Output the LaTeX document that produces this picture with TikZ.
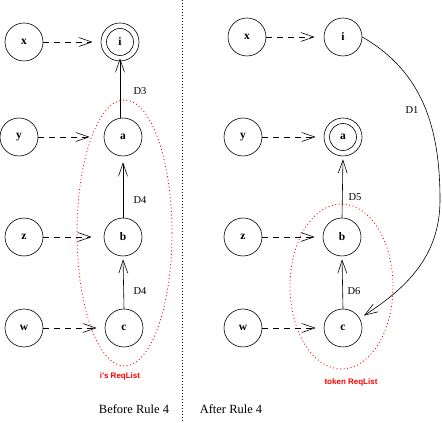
\documentclass[tikz,border=0pt]{standalone}
\usepackage{fontspec}
\setmainfont{Liberation Serif}
\setsansfont{Liberation Sans}
\usetikzlibrary{arrows.meta,shapes.geometric}
\begin{document}
\begin{tikzpicture}[x=1pt,y=1pt,
  state/.style={circle,draw,line width=0.6pt,minimum size=38pt,inner sep=0pt,font=\fontsize{11.5}{11.5}\selectfont\bfseries},
  final/.style={state,path picture={\draw[line width=0.6pt] (path picture bounding box.center) circle (13.5pt);}},
  tip/.style={-{Straight Barb[length=13pt,width=9pt,line width=0.6pt]}},
  req/.style={tip,dash pattern=on 6pt off 5pt,line width=0.6pt},
  dep/.style={tip,line width=0.6pt},
  lbl/.style={font=\fontsize{10.5}{11}\selectfont},
  redlist/.style={draw=red,line width=0.8pt,dash pattern=on 1pt off 2.5pt,ellipse,inner sep=0pt},
  redlbl/.style={text=red,font=\sffamily\bfseries\fontsize{8}{9}\selectfont},
  caption/.style={font=\fontsize{12.5}{13}\selectfont},
  divider/.style={line width=0.6pt,dash pattern=on 1pt off 2pt}]
\useasboundingbox (0,0) rectangle (442,423);

% divider
\coordinate (divtop) at (182,423);
\coordinate (divbot) at (182,0);
\draw[divider] (divtop) -- (divbot);

% ---------- before rule 4 ----------
\node[redlist,minimum width=95pt,minimum height=266pt] (list1) at (124.5,190) {};
\node[state] (x1) at (24,381) {x};
\node[final] (i1) at (120,381) {i};
\node[state] (y1) at (19,286) {y};
\node[state] (a1) at (123,286) {a};
\node[state] (z1) at (24,186) {z};
\node[state] (b1) at (123,186) {b};
\node[state] (w1) at (24,95) {w};
\node[state] (c1) at (124,95) {c};

\draw[req,shorten >=8pt] (x1) -- (i1);
\draw[req,shorten >=14pt] (y1) -- (a1);
\draw[req,shorten >=12pt] (z1) -- (b1);
\draw[req,shorten >=8pt] (w1) -- (c1);

\draw[dep,shorten >=-3pt] (a1.north -| i1.south) -- (i1.south);
\draw[dep,shorten >=6pt] (b1.north) -- (a1.south);
\draw[dep,shorten >=3pt] (c1.north) -- (b1.south);

\node[lbl] (d3) at (140,332) {D3};
\node[lbl] (d4a) at (140,223) {D4};
\node[lbl] (d4b) at (140,132) {D4};
\node[redlbl] (l1) at (120,47) {i's ReqList};
\node[caption] (cap1) at (134,14) {Before Rule 4};

% ---------- after rule 4 ----------
\node[redlist,minimum width=103pt,minimum height=165pt] (list2) at (341.5,136.5) {};
\node[state] (x2) at (247,386) {x};
\node[state] (i2) at (343,386) {i};
\node[state] (y2) at (243,286) {y};
\node[final] (a2) at (343,286) {a};
\node[state] (z2) at (243,186) {z};
\node[state] (b2) at (342,186) {b};
\node[state] (w2) at (243,95) {w};
\node[state] (c2) at (343,95) {c};

\draw[req,shorten >=9pt] (x2) -- (i2);
\draw[req,shorten >=8pt] (y2) -- (a2);
\draw[req,shorten >=8pt] (z2) -- (b2);
\draw[req,shorten >=8pt] (w2) -- (c2);

\draw[dep,shorten >=3pt] (b2.north) -- (a2.south);
\draw[dep,shorten >=3pt] (c2.north) -- (b2.south);

\coordinate (turn) at (440,223);
\draw[dep,shorten >=5pt] (i2.east) to[out=-30,in=90] (turn) to[out=-90,in=33] (c2.30);

\node[lbl] (d1) at (412,313) {D1};
\node[lbl] (d5) at (355,226) {D5};
\node[lbl] (d6) at (354,132) {D6};
\node[redlbl] (l2) at (351,41) {token ReqList};
\node[caption] (cap2) at (231,14) {After Rule 4};
\end{tikzpicture}
\end{document}
